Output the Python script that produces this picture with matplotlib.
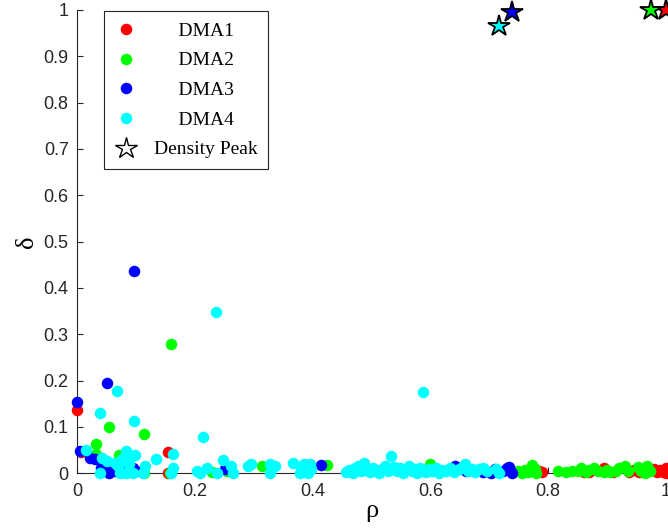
import matplotlib.pyplot as plt

# DMA1 (red)
dma1_x = [0.0, 0.007, 0.154, 0.154, 0.785, 0.79, 0.86, 0.87, 0.895, 0.9, 0.91, 0.937, 0.946,
          0.955, 0.965, 0.98, 0.985, 0.99, 0.995, 1.0, 1.0]
dma1_y = [0.136, 0.045, 0.047, 0.0, 0.005, 0.002, 0.003, 0.002, 0.012, 0.006, 0.003, 0.002, 0.007,
          0.003, 0.005, 0.01, 0.002, 0.008, 0.003, 0.012, 0.0]

# DMA2 (green)
dma2_x = [0.16, 0.055, 0.113, 0.032, 0.033, 0.071, 0.158, 0.113, 0.07,
          0.229, 0.255, 0.314, 0.425, 0.6,
          0.748, 0.755, 0.76, 0.765, 0.773, 0.778, 0.78, 0.816,
          0.83, 0.84, 0.85, 0.855, 0.865, 0.87, 0.878, 0.885, 0.895, 0.9, 0.905, 0.915,
          0.92, 0.93, 0.935, 0.952, 0.958, 0.965, 0.968, 0.972]
dma2_y = [0.278, 0.1, 0.084, 0.064, 0.041, 0.039, 0.0, 0.0, 0.005,
          0.003, 0.005, 0.016, 0.018, 0.019,
          0.005, 0.0, 0.008, 0.002, 0.018, 0.01, 0.0, 0.004,
          0.003, 0.006, 0.004, 0.012, 0.002, 0.008, 0.012, 0.004, 0.002, 0.007, 0.003, 0.005,
          0.012, 0.015, 0.004, 0.014, 0.006, 0.0, 0.015, 0.004]

# DMA3 (blue)
dma3_x = [0.0, 0.051, 0.097, 0.005, 0.022, 0.03, 0.045, 0.04, 0.05, 0.055, 0.06, 0.065,
          0.075, 0.085, 0.095, 0.1, 0.252, 0.415,
          0.641, 0.66, 0.69, 0.703, 0.71, 0.723, 0.73, 0.734, 0.738]
dma3_y = [0.154, 0.194, 0.437, 0.048, 0.034, 0.03, 0.019, 0.012, 0.008, 0.0, 0.01, 0.005,
          0.012, 0.008, 0.012, 0.005, 0.01, 0.018,
          0.016, 0.005, 0.003, 0.0, 0.01, 0.005, 0.012, 0.013, 0.0]

# DMA4 (cyan)
dma4_x = [0.236, 0.588, 0.068, 0.039, 0.097, 0.214, 0.015, 0.163, 0.134,
          0.043, 0.051, 0.039, 0.073, 0.084, 0.095, 0.112, 0.115, 0.084, 0.098, 0.076, 0.093,
          0.163, 0.16, 0.064, 0.07, 0.088,
          0.203, 0.208, 0.221, 0.237, 0.248, 0.262, 0.265, 0.29, 0.296, 0.327, 0.336, 0.327,
          0.367, 0.386, 0.392, 0.378, 0.398, 0.38, 0.395,
          0.457, 0.462, 0.468, 0.472, 0.477, 0.482, 0.488, 0.493, 0.498, 0.503, 0.508, 0.513,
          0.518, 0.523, 0.528, 0.533, 0.538, 0.543, 0.548, 0.553, 0.558, 0.563, 0.568, 0.573,
          0.578, 0.583, 0.588, 0.593, 0.598, 0.603, 0.61, 0.615, 0.62, 0.627, 0.633, 0.64,
          0.646, 0.652, 0.658, 0.664, 0.67, 0.676, 0.683, 0.69, 0.696, 0.711, 0.716]
dma4_y = [0.349, 0.176, 0.178, 0.13, 0.113, 0.078, 0.05, 0.042, 0.03,
          0.034, 0.027, 0.0, 0.0, 0.0, 0.0, 0.0, 0.016, 0.048, 0.04, 0.03, 0.037,
          0.012, 0.0, 0.023, 0.015, 0.02,
          0.005, 0.0, 0.012, 0.0, 0.029, 0.016, 0.0, 0.016, 0.019, 0.019, 0.016, 0.0,
          0.023, 0.019, 0.0, 0.0, 0.009, 0.012, 0.02,
          0.002, 0.008, 0.0, 0.012, 0.015, 0.004, 0.023, 0.008, 0.002, 0.012, 0.006, 0.0,
          0.01, 0.015, 0.004, 0.037, 0.014, 0.005, 0.012, 0.0, 0.008, 0.015, 0.004, 0.01,
          0.0, 0.012, 0.006, 0.002, 0.01, 0.004, 0.012, 0.0, 0.008, 0.004, 0.012, 0.002,
          0.008, 0.012, 0.019, 0.005, 0.01, 0.002, 0.009, 0.012, 0.004, 0.009, 0.0]

# density peaks
peak_x = [1.0, 0.974, 0.739, 0.716]
peak_y = [1.0, 1.0, 0.996, 0.965]

xticks = [0, 0.2, 0.4, 0.6, 0.8, 1]
xlabels = ['0', '0.2', '0.4', '0.6', '0.8', '1']
yticks = [0, 0.1, 0.2, 0.3, 0.4, 0.5, 0.6, 0.7, 0.8, 0.9, 1]
ylabels = ['0', '0.1', '0.2', '0.3', '0.4', '0.5', '0.6', '0.7', '0.8', '0.9', '1']

series = [(dma1_x, dma1_y, '#ff0000', 'DMA1'),
          (dma2_x, dma2_y, '#00ff00', 'DMA2'),
          (dma3_x, dma3_y, '#0000ff', 'DMA3'),
          (dma4_x, dma4_y, '#00ffff', 'DMA4')]

fig = plt.figure(figsize=(6.68, 5.28), dpi=100)
ax = fig.add_axes([0.1153, 0.1036, 0.8817, 0.8775])

for xs, ys, col, name in series:
    ax.plot(xs, ys, 'o', color=col, ms=8.3, mec=col, mew=0, clip_on=False, zorder=3,
            label='     ' + name)

for i in range(len(peak_x)):
    col = series[i][2]
    ax.plot(peak_x[i], peak_y[i], '*', mfc=col, mec='k', ms=16, mew=1.3, clip_on=False, zorder=4)

# legend entry for the peaks
ax.plot([], [], '*', mfc='w', mec='k', ms=16, mew=1.0, label='Density Peak')

ax.set_xlim(0, 1)
ax.set_ylim(0, 1)
ax.set_xticks(xticks)
ax.set_xticklabels(xlabels, fontfamily='Liberation Sans')
ax.set_yticks(yticks)
ax.set_yticklabels(ylabels, fontfamily='Liberation Sans')
ax.tick_params(direction='in', length=4, width=0.8, color='#262626', labelsize=13, labelcolor='#262626')
ax.tick_params(axis='x', pad=7)
ax.tick_params(axis='y', pad=6)
ax.spines['top'].set_visible(False)
ax.spines['right'].set_visible(False)
ax.spines['left'].set_color('#262626')
ax.spines['bottom'].set_color('#262626')

ax.set_xlabel('ρ', fontfamily='Liberation Serif', fontsize=19, labelpad=0)
ax.set_ylabel('δ', fontfamily='Liberation Serif', fontsize=19, labelpad=4)

leg = ax.legend(loc='upper left', bbox_to_anchor=(0.046, 0.997), borderaxespad=0,
                prop={'family': 'Liberation Serif', 'size': 14}, fancybox=False,
                edgecolor='#262626', framealpha=1, borderpad=0.55, labelspacing=0.62,
                handlelength=1.1, handletextpad=0.9)
leg.get_frame().set_linewidth(0.8)

fig.savefig('out.png', dpi=100)
